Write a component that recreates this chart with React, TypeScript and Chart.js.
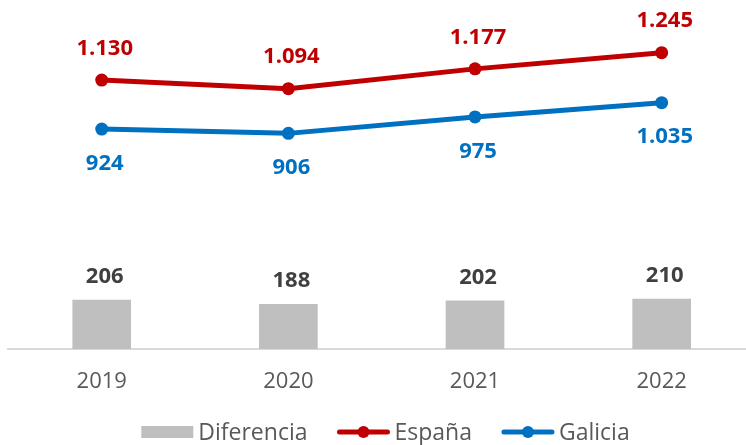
import React, { useEffect, useRef } from "react";
import { Chart, registerables } from "chart.js";

Chart.register(...registerables);

const categories = ["2019", "2020", "2021", "2022"];
const diferencia = [206, 188, 202, 210];
const espana = [1130, 1094, 1177, 1245];
const galicia = [924, 906, 975, 1035];
const seriesNames = ["Diferencia", "España", "Galicia"];
const yMin = 0;
const yMax = 1400;

const colors = {
  bar: "#BFBFBF",
  espana: "#C00000",
  galicia: "#0070C0",
  barLabel: "#404040",
  tick: "#595959",
  axis: "#D9D9D9",
};

const FONT = '"Open Sans", "Noto Sans", sans-serif';

function fmt(v: number): string {
  const s = String(Math.round(v));
  return s.replace(/\B(?=(\d{3})+(?!\d))/g, ".");
}

const dataLabelPlugin = {
  id: "dataLabels",
  afterDatasetsDraw(chart: any) {
    const ctx = chart.ctx;
    ctx.save();
    ctx.font = `bold 22px ${FONT}`;
    ctx.textAlign = "center";
    ctx.textBaseline = "middle";
    chart.data.datasets.forEach((ds: any, i: number) => {
      const meta = chart.getDatasetMeta(i);
      meta.data.forEach((el: any, j: number) => {
        const v = ds.data[j];
        let y = el.y;
        let color = colors.barLabel;
        if (i === 0) {
          y = el.y - 23.5;
          color = colors.barLabel;
        } else if (i === 1) {
          y = el.y - 31.5;
          color = colors.espana;
        } else {
          y = el.y + 34.5;
          color = colors.galicia;
        }
        ctx.fillStyle = color;
        ctx.fillText(fmt(v), el.x + 3, y);
      });
    });
    ctx.restore();
  },
};

const legendPlugin = {
  id: "customLegend",
  afterDraw(chart: any) {
    const ctx = chart.ctx;
    ctx.save();
    ctx.font = `23px ${FONT}`;
    ctx.textBaseline = "middle";
    ctx.textAlign = "left";
    const swatchW = 52;
    const gapText = 5;
    const gapItem = 30;
    const widths = seriesNames.map((n) => swatchW + gapText + ctx.measureText(n).width);
    const total = widths.reduce((a, b) => a + b, 0) + gapItem * (seriesNames.length - 1);
    let x = 385.5 - total / 2;
    const cy = 432;
    const sColors = [colors.bar, colors.espana, colors.galicia];
    seriesNames.forEach((name, i) => {
      if (i === 0) {
        ctx.fillStyle = sColors[i];
        ctx.fillRect(x, cy - 6, swatchW, 12);
      } else {
        ctx.strokeStyle = sColors[i];
        ctx.lineWidth = 5;
        ctx.lineCap = "round";
        ctx.beginPath();
        ctx.moveTo(x + 2, cy);
        ctx.lineTo(x + swatchW - 2, cy);
        ctx.stroke();
        ctx.fillStyle = sColors[i];
        ctx.beginPath();
        ctx.arc(x + swatchW / 2, cy, 6, 0, Math.PI * 2);
        ctx.fill();
      }
      ctx.fillStyle = colors.tick;
      ctx.fillText(name, x + swatchW + gapText, cy + 1);
      x += widths[i] + gapItem;
    });
    ctx.restore();
  },
};

export default function App() {
  const ref = useRef<HTMLCanvasElement | null>(null);

  useEffect(() => {
    if (!ref.current) return;
    const chart = new Chart(ref.current, {
      type: "bar",
      data: {
        labels: categories,
        datasets: [
          {
            type: "bar",
            label: seriesNames[0],
            data: diferencia,
            backgroundColor: colors.bar,
            barThickness: 58,
            order: 3,
          },
          {
            type: "line",
            label: seriesNames[1],
            data: espana,
            borderColor: colors.espana,
            backgroundColor: colors.espana,
            borderWidth: 5,
            pointRadius: 6.5,
            pointHoverRadius: 6.5,
            pointBorderWidth: 0,
            tension: 0,
            order: 1,
          },
          {
            type: "line",
            label: seriesNames[2],
            data: galicia,
            borderColor: colors.galicia,
            backgroundColor: colors.galicia,
            borderWidth: 5,
            pointRadius: 6.5,
            pointHoverRadius: 6.5,
            pointBorderWidth: 0,
            tension: 0,
            order: 2,
          },
        ] as any,
      },
      options: {
        responsive: false,
        animation: false,
        devicePixelRatio: 1,
        layout: { padding: { left: 8.4, right: 9, top: 15.8, bottom: 0 } },
        plugins: {
          legend: { display: false },
          tooltip: { enabled: false },
        },
        scales: {
          x: {
            type: "category",
            offset: true,
            grid: { display: false, drawTicks: false },
            border: { display: true, color: colors.axis, width: 2 },
            ticks: {
              color: colors.tick,
              font: { family: FONT, size: 22 },
              padding: 20,
              maxRotation: 0,
            },
            afterFit: (s: any) => {
              s.height = 96;
            },
          },
          y: {
            display: false,
            min: yMin,
            max: yMax,
          },
        },
      } as any,
      plugins: [dataLabelPlugin, legendPlugin],
    });
    return () => chart.destroy();
  }, []);

  return (
    <div
      style={{
        position: "absolute",
        left: 0,
        top: 0,
        width: 746,
        height: 445,
        overflow: "hidden",
        background: "#fff",
      }}
    >
      <canvas ref={ref} width={764} height={445} style={{ display: "block" }} />
    </div>
  );
}
